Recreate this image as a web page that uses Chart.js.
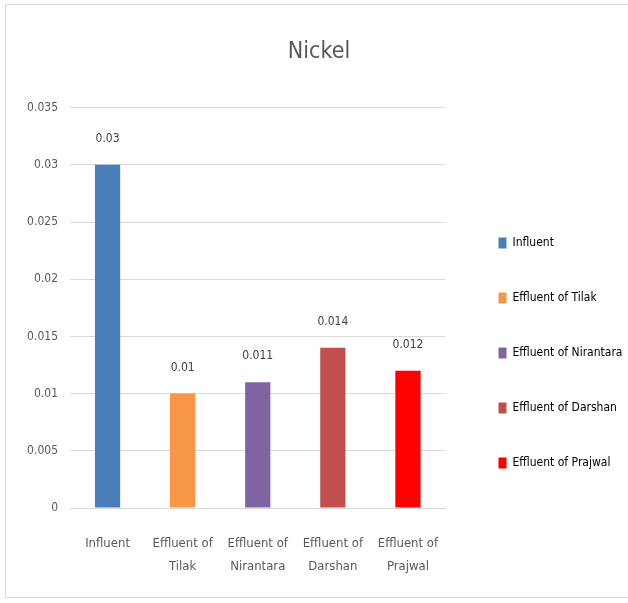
<!DOCTYPE html>
<html>
<head>
<meta charset="utf-8">
<title>Nickel</title>
<script src="https://cdn.jsdelivr.net/npm/chart.js@4"></script>
<style>
  html, body { margin: 0; padding: 0; background: #fff; overflow: hidden; }
  #marco {
    position: absolute; left: 5px; top: 4px;
    width: 622px; height: 592px;
    border: 1px solid #d9d9d9;
  }
</style>
</head>
<body>
<div id="marco"><canvas id="myChart"></canvas></div>
<script>
const categorias = [
  ["Influent"],
  ["Effluent of", "Tilak"],
  ["Effluent of", "Nirantara"],
  ["Effluent of", "Darshan"],
  ["Effluent of", "Prajwal"]
];
const leyendas = ["Influent", "Effluent of Tilak", "Effluent of Nirantara", "Effluent of Darshan", "Effluent of Prajwal"];
const valores = [0.03, 0.01, 0.011, 0.014, 0.012];
const colores = ["#4a7ebb", "#f79646", "#8064a2", "#c0504d", "#ff0000"];
const ticksY = [0, 0.005, 0.01, 0.015, 0.02, 0.025, 0.03, 0.035];

const gris = "#595959";
Chart.defaults.font.family = "'DejaVu Sans Condensed', 'Liberation Sans', sans-serif";
Chart.defaults.color = gris;

// etiquetas de valor encima de cada barra
const etiquetasValor = {
  id: "etiquetasValor",
  afterDatasetsDraw(chart) {
    const ctx = chart.ctx;
    const meta = chart.getDatasetMeta(0);
    ctx.save();
    ctx.font = "12px " + Chart.defaults.font.family;
    ctx.fillStyle = "#404040";
    ctx.textAlign = "center";
    ctx.textBaseline = "middle";
    meta.data.forEach((bar, i) => {
      ctx.fillText(String(valores[i]), bar.x, bar.y - 26);
    });
    ctx.restore();
  }
};

// separar la leyenda del área del gráfico sin recortar el texto,
// y centrar el título sobre todo el ancho del lienzo
const ajustarCajas = {
  id: "ajustarCajas",
  afterLayout(chart) {
    const leg = chart.legend;
    leg.left += 10;
    leg.right = chart.width;
    leg.width = leg.right - leg.left;
    leg.top += 4;
    leg.bottom += 4;

    const tit = chart.titleBlock;
    tit.right = chart.width + 4;
    tit.width = tit.right - tit.left;
  }
};

const config = {
  type: "bar",
  data: {
    labels: categorias,
    datasets: [{
      label: "Nickel",
      data: valores,
      backgroundColor: colores,
      categoryPercentage: 0.8,
      barPercentage: 0.42
    }]
  },
  options: {
    responsive: true,
    maintainAspectRatio: false,
    animation: false,
    layout: { padding: { left: 0, right: 36, top: 0, bottom: 0 } },
    plugins: {
      title: {
        display: true,
        text: "Nickel",
        color: gris,
        font: { size: 23, weight: "normal" },
        padding: { top: 33, bottom: 42 }
      },
      legend: {
        position: "right",
        align: "end",
        fullSize: false,
        labels: {
          boxWidth: 8,
          boxHeight: 11,
          padding: 43,
          color: gris,
          font: { size: 12 },
          generateLabels: () => leyendas.map((txt, i) => ({
            text: txt,
            fillStyle: colores[i],
            strokeStyle: colores[i],
            lineWidth: 0,
            hidden: false,
            index: i
          }))
        }
      },
      tooltip: { enabled: false }
    },
    scales: {
      x: {
        grid: { display: false, drawTicks: false },
        border: { display: true, color: "#d9d9d9" },
        ticks: {
          color: gris,
          padding: 24,
          maxRotation: 0,
          autoSkip: false,
          font: { size: 13, lineHeight: 1.75 }
        },
        afterFit: (scale) => { scale.height = 89; }
      },
      y: {
        min: 0,
        max: 0.035,
        border: { display: false },
        grid: { color: "#d9d9d9", drawTicks: false },
        ticks: {
          color: gris,
          padding: 12,
          font: { size: 12 },
          callback: (v) => String(v)
        },
        afterBuildTicks: (scale) => { scale.ticks = ticksY.map(v => ({ value: v })); },
        afterFit: (scale) => { scale.width = 64; }
      }
    }
  },
  plugins: [etiquetasValor, ajustarCajas]
};

new Chart(document.getElementById("myChart"), config);
</script>
</body>
</html>
